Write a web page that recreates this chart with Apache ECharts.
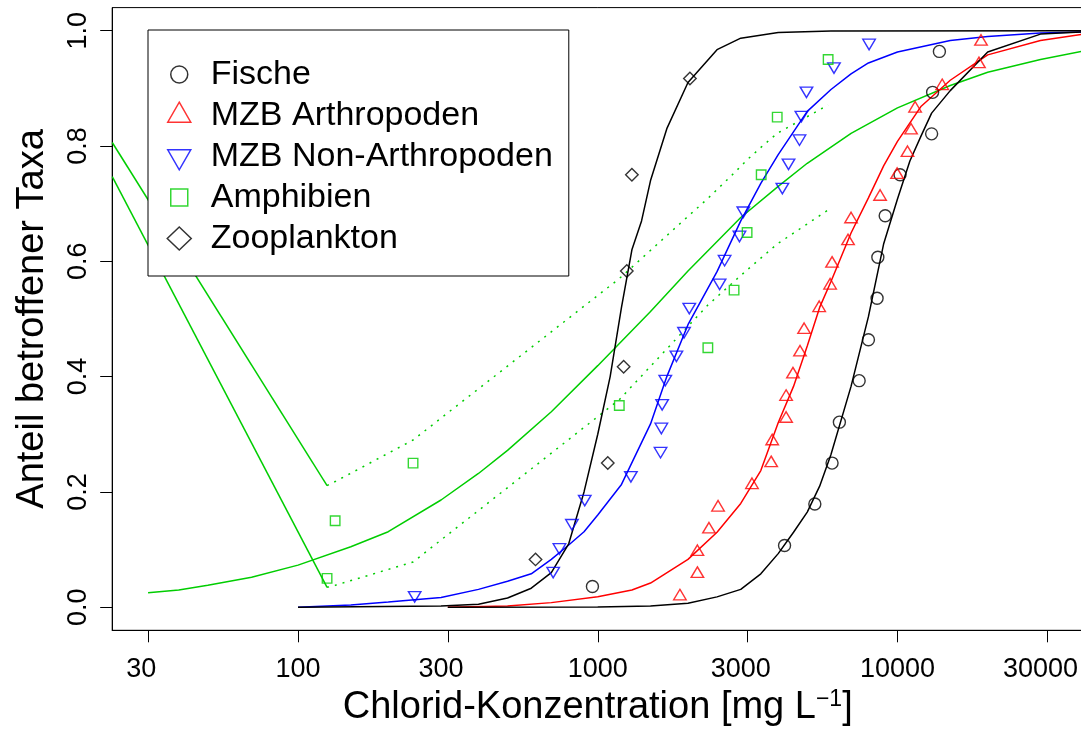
<!DOCTYPE html>
<html>
<head>
<meta charset="utf-8">
<script src="https://cdn.jsdelivr.net/npm/echarts@6/dist/echarts.min.js"></script>
<style>
html,body{margin:0;padding:0;background:#fff;}
#c{width:1081px;height:731px;}
</style>
</head>
<body>
<div id="c"></div>
<script>
// ---------- axis ticks ----------
const xTickLog = [1.5, 2, 2.5, 3, 3.5, 4, 4.5];            // tick marks (log10 mg/L)
const xTickLabels = [30, 100, 300, 1000, 3000, 10000, 30000]; // labels (mg/L)
const yTicks = [0, 0.2, 0.4, 0.6, 0.8, 1.0];

// ---------- observed points (mg/L, proportion) ----------
const fischeConc = [960, 4200, 5300, 6050, 6400, 7450, 8000, 8550, 8600, 9100, 10200, 13000, 13100, 13800];
const fischeP = [0.036, 0.107, 0.179, 0.25, 0.321, 0.393, 0.464, 0.536, 0.607, 0.679, 0.75, 0.821, 0.893, 0.964];

const arthConc = [1880, 2150, 2150, 2350, 2520, 3270, 3790, 3820, 4250, 4250, 4480, 4730, 4880, 5480, 5960, 6050, 6840, 7000, 8750, 9970, 10800, 11100, 11450, 14100, 18700, 19000];
const arthP = [0.019, 0.058, 0.096, 0.135, 0.173, 0.212, 0.25, 0.288, 0.327, 0.365, 0.404, 0.442, 0.481, 0.519, 0.558, 0.596, 0.635, 0.673, 0.712, 0.75, 0.788, 0.827, 0.865, 0.904, 0.942, 0.981];

const nonArthConc = [245, 710, 745, 820, 905, 1290, 1620, 1630, 1640, 1680, 1830, 1940, 2020, 2550, 2650, 2970, 3060, 4130, 4330, 4710, 4780, 4970, 6140, 8040];
const nonArthP = [0.021, 0.063, 0.104, 0.146, 0.188, 0.229, 0.271, 0.313, 0.354, 0.396, 0.438, 0.479, 0.521, 0.563, 0.604, 0.646, 0.688, 0.729, 0.771, 0.813, 0.854, 0.896, 0.938, 0.979];

const amphConc = [125, 133, 242, 1180, 2330, 2850, 3150, 3510, 3970, 5870];
const amphP = [0.05, 0.15, 0.25, 0.35, 0.45, 0.55, 0.65, 0.75, 0.85, 0.95];

const zooConc = [620, 1080, 1220, 1250, 1300, 2030];
const zooP = [0.083, 0.25, 0.417, 0.583, 0.75, 0.917];

// ---------- fitted curves (mg/L, proportion) ----------
const fischeFitConc = [316, 1000, 1500, 2000, 2500, 3000, 3500, 4000, 4500, 5000, 5500, 6000, 7000, 8000, 9000, 10000, 11000, 12000, 13000, 15000, 20000, 30000, 42000];
const fischeFitP = [0.0, 0.0003, 0.002, 0.007, 0.018, 0.031, 0.058, 0.093, 0.13, 0.165, 0.21, 0.265, 0.383, 0.504, 0.631, 0.708, 0.774, 0.818, 0.857, 0.896, 0.963, 0.994, 0.998];

const arthFitConc = [316, 500, 700, 1000, 1300, 1500, 2000, 2500, 3000, 3500, 4000, 4500, 5000, 5500, 6000, 7000, 8000, 9000, 10000, 12000, 15000, 20000, 30000, 42000];
const arthFitP = [0.0, 0.002, 0.008, 0.018, 0.03, 0.042, 0.083, 0.13, 0.18, 0.237, 0.32, 0.383, 0.453, 0.52, 0.565, 0.649, 0.71, 0.766, 0.808, 0.869, 0.914, 0.958, 0.983, 0.994];

const nonArthFitConc = [100, 150, 200, 300, 400, 500, 600, 700, 800, 900, 1000, 1200, 1500, 1700, 2000, 2500, 3000, 3500, 4000, 5000, 6000, 7000, 8000, 10000, 15000, 20000, 30000, 42000];
const nonArthFitP = [0.0, 0.004, 0.009, 0.017, 0.031, 0.045, 0.058, 0.083, 0.108, 0.131, 0.16, 0.213, 0.318, 0.40, 0.49, 0.582, 0.67, 0.735, 0.785, 0.86, 0.898, 0.925, 0.944, 0.963, 0.983, 0.99, 0.996, 0.998];

const amphFitConc = [31.6, 40, 50, 70, 100, 150, 200, 300, 400, 500, 700, 1000, 1500, 2000, 3000, 4000, 5000, 7000, 10000, 15000, 20000, 30000, 42000];
const amphFitP = [0.025, 0.030, 0.038, 0.052, 0.073, 0.105, 0.131, 0.186, 0.232, 0.272, 0.339, 0.419, 0.513, 0.583, 0.676, 0.73, 0.77, 0.822, 0.866, 0.905, 0.928, 0.95, 0.965];

const zooFitConc = [100, 300, 400, 500, 600, 700, 800, 900, 1000, 1100, 1200, 1300, 1400, 1500, 1700, 2000, 2500, 3000, 4000, 6000, 42000];
const zooFitP = [0.0, 0.002, 0.005, 0.016, 0.033, 0.06, 0.11, 0.2, 0.3, 0.4, 0.52, 0.62, 0.67, 0.74, 0.83, 0.91, 0.967, 0.987, 0.997, 0.9995, 1.0];

// confidence band of the amphibian fit (at the amphibian concentrations)
const amphBandUpper = [0.211, 0.218, 0.29, 0.57, 0.709, 0.753, 0.776, 0.798, 0.822, 0.871];
const amphBandLower = [0.0345, 0.038, 0.0785, 0.36, 0.524, 0.565, 0.585, 0.606, 0.63, 0.689];
// straight solid segments entering the band start from the left border
const bandEdgeConc = [24, 125];
const bandEdgeUpperP = [0.806, 0.211];
const bandEdgeLowerP = [0.747, 0.0345];

// ---------- helpers ----------
const LG = Math.log10;
const pairs = (xs, ps) => xs.map((x, i) => [LG(x), ps[i]]);
const xLabelLog = xTickLabels.map(LG);

const FONT = '"Liberation Sans", Arial, Helvetica, sans-serif';
const GREEN = '#00CD00';
const DOWN_TRI = 'path://M0,0L12,0L6,10.4Z';

// legend icons in a 27x27 frame (so that their sizes differ as in the original)
const ICON_CIRCLE = 'path://M0,0M27,27M22,13.5A8.5,8.5,0,1,1,5,13.5A8.5,8.5,0,1,1,22,13.5Z';
const ICON_UP = 'path://M0,0M27,27M13.5,0.2L25,20.2L2,20.2Z';
const ICON_DOWN = 'path://M0,0M27,27M2,6.8L25,6.8L13.5,26.8Z';
const ICON_SQUARE = 'path://M0,0M27,27M5,5L22,5L22,22L5,22Z';
const ICON_DIAMOND = 'path://M0,0M27,27M13.5,2L25.5,13.5L13.5,25L1.5,13.5Z';

function scatter(name, xs, ps, symbol, size, color, offset) {
  return {
    name, type: 'scatter', data: pairs(xs, ps), symbol, symbolSize: size,
    symbolOffset: offset || [0, 0],
    itemStyle: { color: 'rgba(0,0,0,0)', borderColor: color, borderWidth: 1.4 },
    emphasis: { disabled: true }, z: 5
  };
}
function curve(name, xs, ps, color, type) {
  return {
    name, type: 'line', data: pairs(xs, ps), symbol: 'none', showSymbol: false,
    lineStyle: { color, width: 1.5, type: type || 'solid' }, smooth: false,
    emphasis: { disabled: true }, silent: true, z: 3, clip: true
  };
}
function legendItem(name, icon, color) {
  return { name, icon, itemStyle: { color: 'rgba(0,0,0,0)', borderColor: color, borderWidth: 1.5 } };
}

const chart = echarts.init(document.getElementById('c'), null, { renderer: 'canvas' });
const option = {
  animation: false,
  backgroundColor: '#fff',
  textStyle: { fontFamily: FONT, color: '#000' },
  grid: {
    left: 112.2, top: 7.6, width: 971.1, height: 622.7,
    show: true, borderColor: '#000', borderWidth: 1, backgroundColor: 'rgba(0,0,0,0)',
    containLabel: false, outerBoundsMode: 'none'
  },
  legend: {
    orient: 'vertical', left: 148, top: 30,
    padding: [27.5, 16, 20.5, 17],
    itemGap: 7, itemWidth: 27, itemHeight: 27, symbolKeepAspect: true,
    borderColor: '#000', borderWidth: 1, borderRadius: 0, backgroundColor: '#fff',
    selectedMode: false,
    textStyle: { fontFamily: FONT, fontSize: 34, color: '#000', lineHeight: 34, padding: [0, 0, 0, 13] },
    data: [
      legendItem('Fische', ICON_CIRCLE, '#000'),
      legendItem('MZB Arthropoden', ICON_UP, '#FF0000'),
      legendItem('MZB Non-Arthropoden', ICON_DOWN, '#0000FF'),
      legendItem('Amphibien', ICON_SQUARE, GREEN),
      legendItem('Zooplankton', ICON_DIAMOND, '#000')
    ]
  },
  xAxis: {
    type: 'value', min: 1.38, max: 4.62,
    axisLine: { show: true, onZero: false, lineStyle: { color: '#000', width: 1 } },
    axisTick: { show: true, inside: false, length: 12, lineStyle: { color: '#000', width: 1 }, customValues: xTickLog },
    axisLabel: {
      show: true, customValues: xLabelLog, fontSize: 27, color: '#000', margin: 26, fontFamily: FONT,
      formatter: v => {
        const i = xLabelLog.findIndex(t => Math.abs(t - v) < 1e-6);
        return i >= 0 ? String(xTickLabels[i]) : '';
      }
    },
    splitLine: { show: false },
    name: '{t|Chlorid-Konzentration [mg L}{s|\u22121}{t|]}',
    nameLocation: 'middle', nameGap: 58,
    nameTextStyle: {
      fontFamily: FONT, color: '#000', fontSize: 38,
      rich: {
        t: { fontFamily: FONT, fontSize: 38, color: '#000', lineHeight: 38 },
        s: { fontFamily: FONT, fontSize: 23, color: '#000', lineHeight: 23, verticalAlign: 'top' }
      }
    }
  },
  yAxis: {
    type: 'value', min: -0.04, max: 1.04,
    axisLine: { show: true, onZero: false, lineStyle: { color: '#000', width: 1 } },
    axisTick: { show: true, inside: false, length: 12, lineStyle: { color: '#000', width: 1 }, customValues: yTicks },
    axisLabel: {
      show: true, customValues: yTicks, rotate: 90, fontSize: 27, color: '#000', margin: 20, fontFamily: FONT,
      formatter: v => v.toFixed(1)
    },
    splitLine: { show: false },
    name: 'Anteil betroffener Taxa', nameLocation: 'middle', nameGap: 61,
    nameTextStyle: { fontFamily: FONT, fontSize: 38, color: '#000' }
  },
  series: [
    curve('band edge upper', bandEdgeConc, bandEdgeUpperP, GREEN),
    curve('band edge lower', bandEdgeConc, bandEdgeLowerP, GREEN),
    curve('Amphibien band upper', amphConc, amphBandUpper, GREEN, [2, 6]),
    curve('Amphibien band lower', amphConc, amphBandLower, GREEN, [2, 6]),
    curve('Amphibien fit', amphFitConc, amphFitP, GREEN),
    curve('MZB Non-Arthropoden fit', nonArthFitConc, nonArthFitP, '#0000FF'),
    curve('Zooplankton fit', zooFitConc, zooFitP, '#000'),
    curve('MZB Arthropoden fit', arthFitConc, arthFitP, '#FF0000'),
    curve('Fische fit', fischeFitConc, fischeFitP, '#000'),
    scatter('Fische', fischeConc, fischeP, 'circle', 12, '#000'),
    scatter('MZB Arthropoden', arthConc, arthP, 'triangle', [12.5, 10.5], '#FF0000', [0, -1.7]),
    scatter('MZB Non-Arthropoden', nonArthConc, nonArthP, DOWN_TRI, [12.5, 10.5], '#0000FF', [0, 1.7]),
    scatter('Amphibien', amphConc, amphP, 'rect', 9.5, GREEN),
    scatter('Zooplankton', zooConc, zooP, 'diamond', [12.5, 12.5], '#000')
  ]
};
chart.setOption(option);
</script>
</body>
</html>
